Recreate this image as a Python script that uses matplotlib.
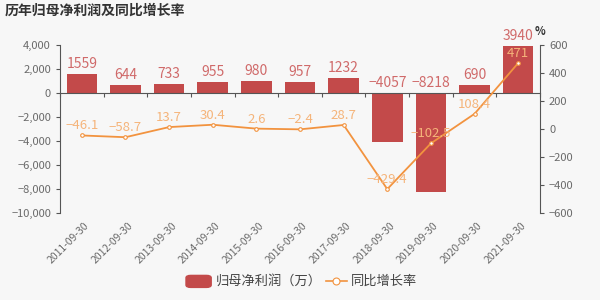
import matplotlib
matplotlib.use("Agg")
import matplotlib.pyplot as plt
import numpy as np
from matplotlib.lines import Line2D
from matplotlib.patches import FancyBboxPatch

plt.rcParams['font.family'] = ['Noto Sans CJK SC', 'DejaVu Sans']
plt.rcParams['axes.unicode_minus'] = True

categories = ["2011-09-30", "2012-09-30", "2013-09-30", "2014-09-30", "2015-09-30",
              "2016-09-30", "2017-09-30", "2018-09-30", "2019-09-30", "2020-09-30", "2021-09-30"]
profit = [1559, 644, 733, 955, 980, 957, 1232, -4057, -8218, 690, 3940]
growth = [-46.1, -58.7, 13.7, 30.4, 2.6, -2.4, 28.7, -429.4, -102.5, 108.4, 471]
left_ticks = [4000, 2000, 0, -2000, -4000, -6000, -8000, -10000]
right_ticks = [600, 400, 200, 0, -200, -400, -600]

bg = '#f7f7f7'
bar_color = '#c34a4a'
bar_label_color = '#d06a6a'
line_color = '#f2933f'
line_label_color = '#f5b47a'
axis_color = '#555555'
tick_text = '#6a6a6a'

fig = plt.figure(figsize=(6, 3), dpi=100, facecolor=bg)
ax = fig.add_axes([0.1, 0.29, 0.8, 0.56])
ax.set_facecolor(bg)
ax2 = ax.twinx()

n = len(categories)
x = np.arange(n)
ax.bar(x, profit, width=0.7, color=bar_color, zorder=2)
ax.set_xlim(-0.5, n - 0.5)
ax.set_ylim(-10000, 4000)
ax.set_yticks(left_ticks)
ax.set_yticklabels([f"{v:,}".replace('-', '−') for v in left_ticks])

for i, v in enumerate(profit):
    ax.text(i, max(v, 0) + 250, f"{v}".replace('-', '−'), ha='center', va='bottom',
            color=bar_label_color, fontsize=10, zorder=5)

ax2.plot(x, growth, color=line_color, lw=1.3, marker='o', markersize=2.6,
         markerfacecolor='white', markeredgecolor=line_color, markeredgewidth=0.8, zorder=4)
ax2.set_ylim(-600, 600)
ax2.set_yticks(right_ticks)
ax2.set_yticklabels([f"{v}".replace('-', '−') for v in right_ticks])
for i, v in enumerate(growth):
    ax2.text(i, v + 22, f"{v:g}".replace('-', '−'), ha='center', va='bottom',
             color=line_label_color, fontsize=9.5, zorder=6)
ax2.text(1.0, 1.04, '%', transform=ax2.transAxes, ha='center', va='bottom',
         fontsize=8, color='#333333', fontweight='bold')

for a in (ax, ax2):
    a.spines['top'].set_visible(False)
    a.tick_params(axis='y', colors=axis_color, labelcolor=tick_text, labelsize=8,
                  length=3, width=0.8)
ax.spines['right'].set_visible(False)
ax2.spines['left'].set_visible(False)
ax2.spines['bottom'].set_visible(False)
ax.spines['left'].set_color(axis_color)
ax2.spines['right'].set_color(axis_color)
ax.spines['bottom'].set_position(('data', 0))
ax.spines['bottom'].set_color(axis_color)
ax.spines['bottom'].set_linewidth(0.8)

ax.set_xticks(np.arange(n + 1) - 0.5)
ax.set_xticklabels([])
ax.tick_params(axis='x', colors=axis_color, length=3, width=0.8, direction='out')
for i, c in enumerate(categories):
    ax.text(i + 0.05, -0.045, c, transform=ax.get_xaxis_transform(), rotation=45,
            ha='right', va='top', rotation_mode='anchor', fontsize=7.5, color=tick_text)

ax.set_zorder(1)
ax2.set_zorder(2)
ax2.patch.set_visible(False)

fig.text(0.008, 0.965, '历年归母净利润及同比增长率', fontsize=10, fontweight='bold',
         color='#333333', ha='left', va='center')

# legend
lx = 0.31
fig.patches.append(FancyBboxPatch((lx, 0.042), 0.042, 0.04, boxstyle='round,pad=0,rounding_size=0.008',
                                  transform=fig.transFigure, color=bar_color, figure=fig))
fig.text(lx + 0.05, 0.062, '归母净利润（万）', fontsize=9.5, color='#444444', va='center', ha='left')
fig.lines.append(Line2D([0.543, 0.578], [0.062, 0.062], transform=fig.transFigure,
                        color=line_color, lw=1.2, figure=fig))
fig.lines.append(Line2D([0.5605], [0.062], transform=fig.transFigure, color=line_color,
                        marker='o', markersize=5, markerfacecolor='white',
                        markeredgecolor=line_color, markeredgewidth=0.8, lw=0, figure=fig))
fig.text(0.585, 0.062, '同比增长率', fontsize=9.5, color='#444444', va='center', ha='left')

fig.savefig('out.png', dpi=100, facecolor=bg)
